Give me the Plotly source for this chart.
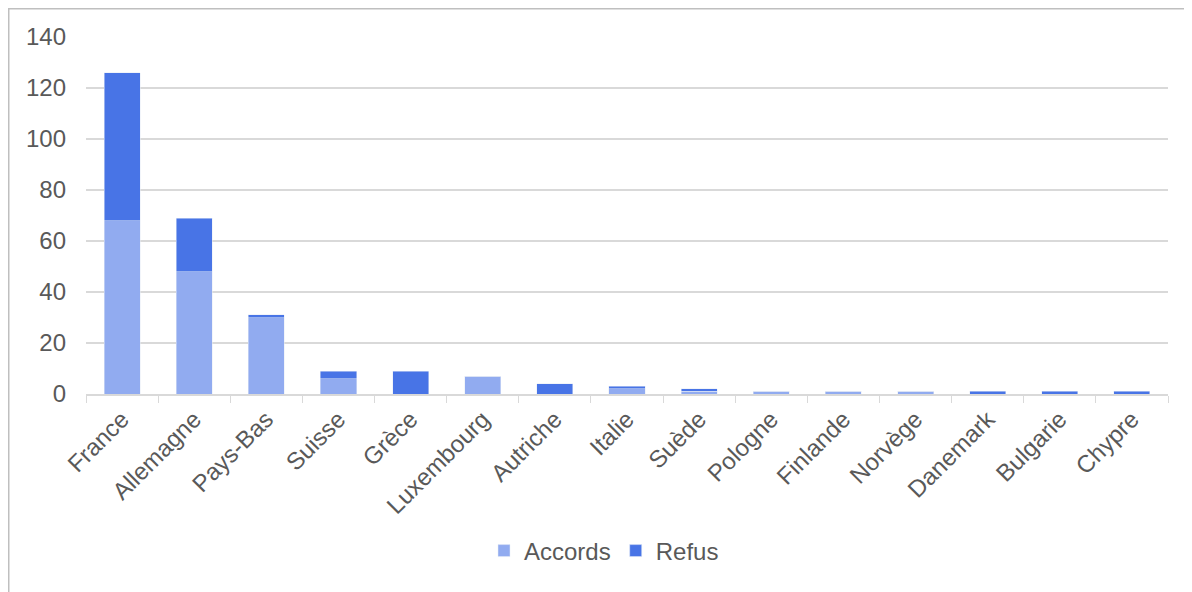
import plotly.graph_objects as go

countries = ["France", "Allemagne", "Pays-Bas", "Suisse", "Grèce", "Luxembourg", "Autriche",
             "Italie", "Suède", "Pologne", "Finlande", "Norvège", "Danemark", "Bulgarie", "Chypre"]
accords = [68, 48, 30, 6, 0, 7, 0, 2, 1, 1, 1, 1, 0, 0, 0]
refus = [58, 21, 1, 3, 9, 0, 4, 1, 1, 0, 0, 0, 1, 1, 1]
y_ticks = [0, 20, 40, 60, 80, 100, 120, 140]

# page body has an 8px margin, so the figure starts at (8, 8) in the window
OFF = 8
W, H = 1192 - OFF, 592 - OFF
L, T = 86 - OFF, 37 - OFF
R = W - (1168 - OFF)
B = H - (394 - OFF)
pw, ph = W - L - R, H - T - B

fam = "Liberation Sans, Arial, sans-serif"
font = dict(family=fam, size=24, color="#595959")

fig = go.Figure()
fig.add_bar(x=countries, y=accords, name="Accords", marker_color="#91ABF0", width=0.5)
fig.add_bar(x=countries, y=refus, name="Refus", marker_color="#4874E6", width=0.5)

fig.update_layout(
    width=W, height=H, barmode="stack",
    margin=dict(l=L, r=R, t=T, b=B, autoexpand=False),
    paper_bgcolor="white", plot_bgcolor="white",
    font=font,
    xaxis=dict(tickangle=-45, ticks="outside", tickson="boundaries", ticklen=7,
               tickcolor="#d9d9d9", showline=True, linecolor="#d9d9d9", linewidth=1.5,
               showgrid=False, tickfont=font),
    yaxis=dict(range=[0, 140], tickvals=y_ticks, showgrid=True, gridcolor="#d9d9d9",
               gridwidth=1.5, zeroline=False, showline=False, tickfont=font, ticklabelstandoff=19),
    legend=dict(orientation="h", x=(604 - OFF - L) / pw, xanchor="center",
                y=(H - B - (551 - OFF)) / ph, yanchor="middle",
                font=dict(size=24, color="#595959", family=fam),
                itemwidth=30, traceorder="normal"),
    showlegend=True,
)

fig.add_shape(type="rect", xref="paper", yref="paper",
              x0=(0.75 - L) / pw, x1=(W + 20 - L) / pw,
              y0=(H - B - (H + 20)) / ph, y1=1 + (T - 0.75) / ph,
              line=dict(color="#bfbfbf", width=1.5), fillcolor="rgba(0,0,0,0)", layer="below")

fig.write_html("out.html")
